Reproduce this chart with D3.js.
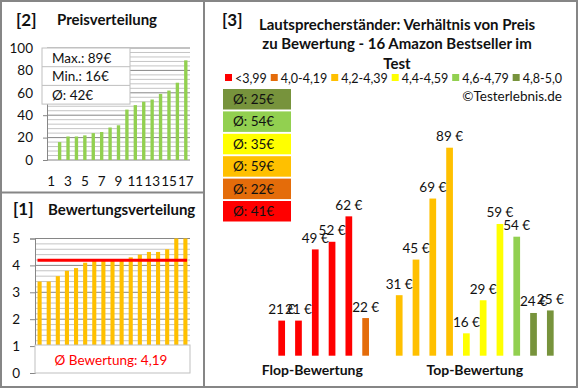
<!DOCTYPE html>
<html>
<head>
<meta charset="utf-8">
<script src="https://cdn.jsdelivr.net/npm/d3@7"></script>
<style>
  body { margin: 0; background: #fff; }
  text { font-family: Lato, "Open Sans", sans-serif; fill: #111; }
</style>
</head>
<body>
<div id="chart"></div>
<script>
// price distribution (sorted), category 1 left empty like in the original
var priceCats = ["1","2","3","4","5","6","7","8","9","10","11","12","13","14","15","16","17"];
var priceValues = [null,16,21,21,22,24,25,29,31,45,49,52,54,59,62,69,89];
var priceTicks = [0,20,40,60,80,100];

// rating distribution (sorted)
var ratingValues = [3.4,3.4,3.6,3.8,3.9,4.1,4.2,4.2,4.2,4.2,4.3,4.4,4.5,4.5,4.6,5.0,5.0];
var ratingTicks = [0,1,2,3,4,5];

// products in panel 3: price and rating class
var productPrices = [21,21,49,52,62,22,31,45,69,89,16,29,59,54,24,25];
var productClass  = [0,0,0,0,0,1,2,2,2,2,3,3,3,4,5,5];
var classLabels = ["<3,99","4,0-4,19","4,2-4,39","4,4-4,59","4,6-4,79","4,8-5,0"];
var classColors = ["#FF0000","#E46C0A","#FFC000","#FFFF00","#92D050","#77933C"];
var groupLabels = ["Flop-Bewertung","Top-Bewertung"];

var width = 580, height = 390;
var gridMajor = "#868686", gridMinor = "#c4c4c4";

var svg = d3.select("#chart").append("svg")
  .attr("width", width)
  .attr("height", height);

// frame + panel dividers
svg.append("rect").attr("x", 1).attr("y", 1).attr("width", 576).attr("height", 386)
  .attr("fill", "#fff").attr("stroke", gridMajor).attr("stroke-width", 2);
svg.append("line").attr("x1", 204).attr("x2", 204).attr("y1", 0).attr("y2", 388)
  .attr("stroke", gridMajor).attr("stroke-width", 2);
svg.append("line").attr("x1", 0).attr("x2", 204).attr("y1", 192.5).attr("y2", 192.5)
  .attr("stroke", gridMajor).attr("stroke-width", 2);

function numDE(v, digits) {
  return d3.format("." + digits + "f")(v).replace(".", ",");
}

// ---------- [2] Preisverteilung ----------
(function() {
  var g = svg.append("g");
  g.append("text").attr("x", 16).attr("y", 26).style("font-size", "17px").style("font-weight", "bold").text("[2]");
  g.append("text").attr("x", 57).attr("y", 25).style("font-size", "15px").style("font-weight", "bold").text("Preisverteilung");

  var x = d3.scaleBand().domain(priceCats).range([47, 190]).paddingInner(0.6).paddingOuter(0.3);
  var y = d3.scaleLinear().domain([0, 100]).range([160, 48]);

  // minor + major grid
  var minor = d3.range(0, 101, 4).filter(function(v) { return v % 20 != 0; });
  g.selectAll("line.minor").data(minor).enter().append("line")
    .attr("x1", 47).attr("x2", 190)
    .attr("y1", function(d) { return y(d); }).attr("y2", function(d) { return y(d); })
    .attr("stroke", gridMinor).attr("stroke-width", 1);
  g.selectAll("line.major").data(priceTicks.slice(1)).enter().append("line")
    .attr("x1", 47).attr("x2", 190)
    .attr("y1", function(d) { return y(d); }).attr("y2", function(d) { return y(d); })
    .attr("stroke", gridMajor).attr("stroke-width", 1);

  var yAxis = g.append("g").attr("transform", "translate(47,0)")
    .call(d3.axisLeft(y).tickValues(priceTicks).tickFormat(d3.format("d")).tickSize(4).tickPadding(10));
  yAxis.select(".domain").attr("stroke", gridMajor);
  yAxis.selectAll(".tick line").attr("stroke", gridMajor);
  yAxis.selectAll("text").style("font-size", "13.5px").attr("fill", "#111");

  g.append("line").attr("x1", 47).attr("x2", 190).attr("y1", 160).attr("y2", 160).attr("stroke", gridMajor);

  g.selectAll("rect.bar").data(priceValues.map(function(v, i) { return {c: priceCats[i], v: v}; })
      .filter(function(d) { return d.v != null; }))
    .enter().append("rect")
    .attr("x", function(d) { return x(d.c); })
    .attr("width", x.bandwidth())
    .attr("y", function(d) { return y(d.v); })
    .attr("height", function(d) { return y(0) - y(d.v); })
    .attr("fill", "#92D050");

  g.selectAll("text.xl").data(priceCats.filter(function(d, i) { return i % 2 == 0; })).enter().append("text")
    .attr("x", function(d) { return x(d) + x.bandwidth() / 2; })
    .attr("y", 186).attr("text-anchor", "middle").style("font-size", "13.5px")
    .text(function(d) { return d; });

  // stats box
  var vals = priceValues.filter(function(v) { return v != null; });
  var stats = ["Max.: " + d3.max(vals) + "€", "Min.: " + d3.min(vals) + "€", "Ø: " + Math.round(d3.mean(vals)) + "€"];
  var bx = 42, by = 48, bw = 88, rh = 18.7;
  g.append("rect").attr("x", bx).attr("y", by).attr("width", bw).attr("height", rh * 3)
    .attr("fill", "#fff").attr("stroke", "#bfbfbf");
  g.selectAll("line.sep").data([1, 2]).enter().append("line")
    .attr("x1", bx).attr("x2", bx + bw)
    .attr("y1", function(d) { return by + d * rh; }).attr("y2", function(d) { return by + d * rh; })
    .attr("stroke", "#bfbfbf");
  g.selectAll("text.stat").data(stats).enter().append("text")
    .attr("x", 52).attr("y", function(d, i) { return by + i * rh + 14.5; })
    .style("font-size", "13.5px").text(function(d) { return d; });
})();

// ---------- [1] Bewertungsverteilung ----------
(function() {
  var g = svg.append("g");
  g.append("text").attr("x", 13).attr("y", 215).style("font-size", "17px").style("font-weight", "bold").text("[1]");
  g.append("text").attr("x", 48).attr("y", 215).style("font-size", "15px").style("font-weight", "bold").text("Bewertungsverteilung");

  var cats = ratingValues.map(function(d, i) { return i; });
  var x = d3.scaleBand().domain(cats).range([35, 190]).paddingInner(0.55).paddingOuter(0.28);
  var y = d3.scaleLinear().domain([0, 5]).range([373, 238.5]);

  var minor = d3.range(0, 50, 2).map(function(v) { return v / 10; }).filter(function(v) { return Math.abs(v - Math.round(v)) > 0.01; });
  g.selectAll("line.minor").data(minor).enter().append("line")
    .attr("x1", 35).attr("x2", 190)
    .attr("y1", function(d) { return y(d); }).attr("y2", function(d) { return y(d); })
    .attr("stroke", gridMinor);
  g.selectAll("line.major").data(ratingTicks.slice(1)).enter().append("line")
    .attr("x1", 35).attr("x2", 190)
    .attr("y1", function(d) { return y(d); }).attr("y2", function(d) { return y(d); })
    .attr("stroke", gridMajor);

  var yAxis = g.append("g").attr("transform", "translate(35,0)")
    .call(d3.axisLeft(y).tickValues(ratingTicks).tickFormat(d3.format("d")).tickSize(5).tickPadding(10));
  yAxis.select(".domain").attr("stroke", gridMajor);
  yAxis.selectAll(".tick line").attr("stroke", gridMajor);
  yAxis.selectAll("text").style("font-size", "13.5px").attr("fill", "#111");

  g.selectAll("rect.bar").data(ratingValues).enter().append("rect")
    .attr("x", function(d, i) { return x(i); })
    .attr("width", x.bandwidth())
    .attr("y", function(d) { return y(d); })
    .attr("height", function(d) { return y(0) - y(d); })
    .attr("fill", "#FFC000");

  var avg = d3.mean(ratingValues);
  g.append("line").attr("x1", 37.5).attr("x2", 187).attr("y1", y(avg)).attr("y2", y(avg))
    .attr("stroke", "#FF0000").attr("stroke-width", 3);

  g.append("rect").attr("x", 35).attr("y", 345).attr("width", 155).attr("height", 28)
    .attr("fill", "#fff").attr("stroke", "#bfbfbf");
  g.append("text").attr("x", 111).attr("y", 364.5).attr("text-anchor", "middle")
    .style("font-size", "13.5px").style("fill", "#FF0000")
    .text("Ø Bewertung: " + numDE(avg, 2));
})();

// ---------- [3] Preis vs Bewertung ----------
(function() {
  var g = svg.append("g");
  g.append("text").attr("x", 222).attr("y", 26).style("font-size", "17px").style("font-weight", "bold").text("[3]");
  var title = ["Lautsprecherständer: Verhältnis von Preis", "zu Bewertung - 16 Amazon Bestseller im", "Test"];
  g.selectAll("text.title").data(title).enter().append("text")
    .attr("x", 397).attr("y", function(d, i) { return 30 + i * 19.3; })
    .attr("text-anchor", "middle").style("font-size", "15px").style("font-weight", "bold")
    .text(function(d) { return d; });

  // legend row, spread between x=225 and x=562
  var lg = g.append("g");
  var items = classLabels.map(function(lab, i) {
    var t = lg.append("text").attr("y", 83).style("font-size", "12.5px").text(lab);
    return {t: t, w: t.node().getComputedTextLength(), i: i};
  });
  var total = d3.sum(items, function(d) { return 10 + d.w; });
  var gap = (562 - 225 - total) / (items.length - 1);
  var lx = 225;
  items.forEach(function(d) {
    lg.append("rect").attr("x", lx).attr("y", 74).attr("width", 7).attr("height", 7).attr("fill", classColors[d.i]);
    d.t.attr("x", lx + 10);
    lx += 10 + d.w + gap;
  });

  g.append("text").attr("x", 562).attr("y", 101).attr("text-anchor", "end").style("font-size", "13.5px")
    .text("©Testerlebnis.de");

  // average boxes per rating class (best class on top)
  var order = [5, 4, 3, 2, 1, 0];
  var avgs = order.map(function(c) {
    var ps = productPrices.filter(function(p, i) { return productClass[i] == c; });
    return {c: c, v: Math.round(d3.mean(ps))};
  });
  g.selectAll("rect.avg").data(avgs).enter().append("rect")
    .attr("x", 223).attr("y", function(d, i) { return 89 + i * 22.4; })
    .attr("width", 68).attr("height", 20.5)
    .attr("fill", function(d) { return classColors[d.c]; });
  g.selectAll("text.avg").data(avgs).enter().append("text")
    .attr("x", 233).attr("y", function(d, i) { return 89 + i * 22.4 + 15; })
    .style("font-size", "13.5px")
    .text(function(d) { return "Ø: " + d.v + "€"; });

  // bars: leading empty slot, 6 flop products, empty slot, 10 top products
  var slots = ["e0"].concat(productPrices.slice(0, 6).map(function(d, i) { return "p" + i; }))
    .concat(["e1"]).concat(productPrices.slice(6).map(function(d, i) { return "p" + (i + 6); }));
  var x = d3.scaleBand().domain(slots).range([256.5, 558.7]).paddingInner(0.6).paddingOuter(0.3);
  var y = d3.scaleLinear().domain([7.2, 89]).range([355.7, 147.7]);

  var bars = productPrices.map(function(p, i) { return {k: "p" + i, v: p, c: productClass[i]}; });
  g.selectAll("rect.bar").data(bars).enter().append("rect")
    .attr("x", function(d) { return x(d.k); })
    .attr("width", x.bandwidth())
    .attr("y", function(d) { return y(d.v); })
    .attr("height", function(d) { return y.range()[0] - y(d.v); })
    .attr("fill", function(d) { return classColors[d.c]; });
  g.selectAll("text.val").data(bars).enter().append("text")
    .attr("x", function(d) { return x(d.k) + x.bandwidth() / 2; })
    .attr("y", function(d) { return y(d.v) - 6.5; })
    .attr("text-anchor", "middle").style("font-size", "13.5px")
    .text(function(d) { return d.v + " €"; });

  var flopMid = (x("e0") + x("p5") + x.bandwidth()) / 2 - 3;
  var topMid = (x("p6") + x("p15") + x.bandwidth()) / 2;
  g.selectAll("text.group").data(groupLabels).enter().append("text")
    .attr("x", function(d, i) { return i == 0 ? flopMid : topMid; })
    .attr("y", 375).attr("text-anchor", "middle")
    .style("font-size", "14px").style("font-weight", "bold")
    .text(function(d) { return d; });
})();
</script>
</body>
</html>
